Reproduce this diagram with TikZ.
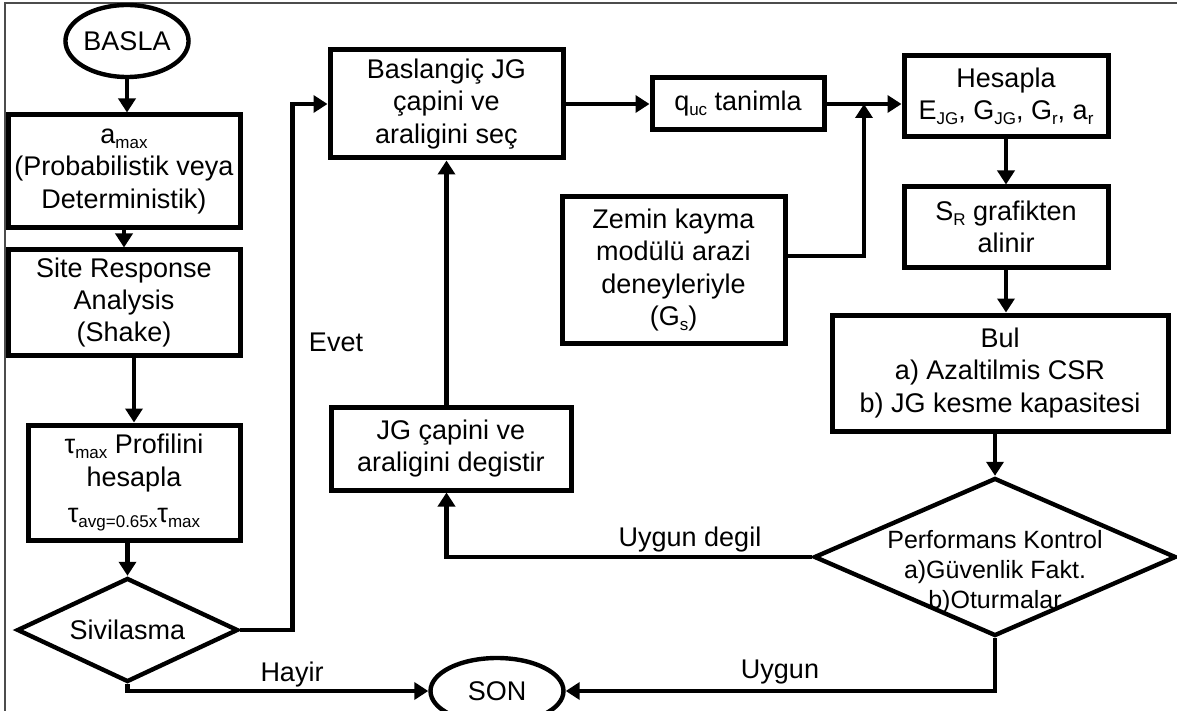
\documentclass[tikz,border=0pt]{standalone}
\usepackage{fontspec}
\setmainfont{Liberation Sans}
\usetikzlibrary{shapes.geometric}
\usetikzlibrary{arrows.meta}
\usetikzlibrary{calc}

\newcommand{\lowsub}[1]{\raisebox{-0.35ex}{\fontsize{8.5}{8.5}\selectfont #1}}

\tikzset{
  box/.style={draw, line width=2.5pt, align=center, inner sep=2pt, font=\fontsize{13.5}{16.2}\selectfont},
  term/.style={ellipse, draw, line width=2.2pt, inner sep=0pt, font=\fontsize{13.5}{16.2}\selectfont},
  test/.style={diamond, draw, line width=2.2pt, aspect=2.1, inner sep=0pt, font=\fontsize{13.5}{16.2}\selectfont},
  arr/.style={line width=2.4pt, -{Triangle[length=7pt,width=8.5pt]}},
  lbl/.style={font=\fontsize{13.5}{16.2}\selectfont}
}

\begin{document}
\begin{tikzpicture}[x=0.5pt,y=-0.5pt]

        \useasboundingbox (0,0) rectangle (1177,711);

        % Frame
        \draw[line width=0.6pt, black!70] (5,711) -- (5,3) -- (1177,3);

        % Left column
        \node[term, minimum width=58.5pt, minimum height=36pt] (basla) at (127,41) {BASLA};
        \node[box, minimum width=116pt, minimum height=56.5pt] (amax) at (124,171.5) {a\lowsub{max}\\(Probabilistik veya\\Deterministik)};
        \node[box, minimum width=116pt, minimum height=52.5pt] (site) at (124,302.5) {Site Response\\Analysis\\(Shake)};
        \node[box, minimum width=106pt, minimum height=57.5pt] (tau) at (134,482.5) {τ\lowsub{max} Profilini\\hesapla\\[2pt]τ\lowsub{avg=0.65x}τ\lowsub{max}};
        \node[test, minimum width=110.5pt, minimum height=52pt] (sivil) at (127.5,630) {Sivilasma};

        % Middle
        \node[box, minimum width=116.5pt, minimum height=54pt] (baslangic) at (446.5,104) {Baslangiç JG\\çapini ve\\araligini seç};
        \node[box, minimum width=120pt, minimum height=41.5pt] (degistir) at (451,448.5) {JG çapini ve\\araligini degistir};
        \node[box, minimum width=86pt, minimum height=26pt] (quc) at (738,104) {q\lowsub{uc} tanimla};
        \node[box, minimum width=111.5pt, minimum height=73pt] (zemin) at (673.5,270) {Zemin kayma\\modülü arazi\\deneyleriyle\\(G\lowsub{s})};
        \node[term, minimum width=66.5pt, minimum height=33pt] (son) at (497,691) {SON};

        % Right column
        \node[box, minimum width=102pt, minimum height=40.5pt] (hesapla) at (1006,96.5) {Hesapla\\E\lowsub{JG}, G\lowsub{JG}, G\lowsub{r}, a\lowsub{r}};
        \node[box, minimum width=102pt, minimum height=40pt] (sr) at (1006,227) {S\lowsub{R} grafikten\\alinir};
        \node[box, minimum width=168pt, minimum height=58pt] (bul) at (1000,373) {Bul\\a) Azaltilmis CSR\\b) JG kesme kapasitesi};
        \node[test, minimum width=181pt, minimum height=79pt] (perf) at (995,557) {};
        \node[align=center, font=\fontsize{12.5}{15}\selectfont] (perftext) at (995,572) {Performans Kontrol\\a)Güvenlik Fakt.\\b)Oturmalar};

        % Labels
        \node[lbl] (evet) at (336,342) {Evet};
        \node[lbl] (hayir) at (292,675) {Hayir};
        \node[lbl] (uygun) at (780,672) {Uygun};
        \node[lbl] (uygundegil) at (690,540) {Uygun degil};

        % Connectors
        \draw[arr] (basla.south) -- (basla.south |- amax.north);
        \draw[arr] (amax.south) -- (site.north);
        \draw[arr] (tau.north |- site.south) -- (tau.north);
        \draw[arr] (sivil.north |- tau.south) -- (sivil.north);
        \draw[arr] (sivil.east) -- ++(52,0) |- (baslangic.west);
        \draw[arr] (sivil.south) |- (son.west);
        \draw[arr] (baslangic.east) -- (quc.west);
        \draw[arr] (quc.east) -- (quc.east -| hesapla.west);
        \coordinate (join) at (864,104);
        \draw[arr] ([yshift=7pt]zemin.east) -| (join);
        \draw[arr] (hesapla.south) -- (sr.north);
        \draw[arr] (sr.south) -- (sr.south |- bul.north);
        \draw[arr] (perf.north |- bul.south) -- (perf.north);
        \draw[arr] (perf.west) -| (baslangic.south |- degistir.south);
        \draw[arr] (baslangic.south |- degistir.north) -- (baslangic.south);
        \draw[arr] (perf.south) |- (son.east);
    \end{tikzpicture}
\end{document}
